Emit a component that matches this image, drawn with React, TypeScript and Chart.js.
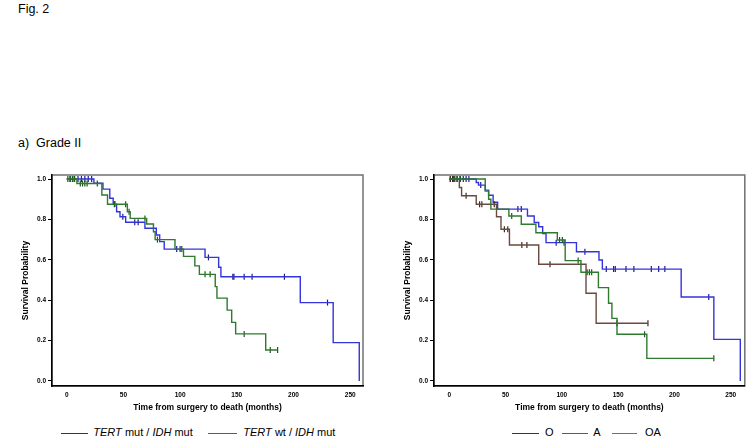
import React, { useEffect, useRef } from "react";
import { Chart, registerables } from "chart.js";

Chart.register(...registerables);

const FONT = '"Liberation Sans", Arial, sans-serif';

const xTicks = [0, 50, 100, 150, 200, 250];
const yTicks = [0, 0.2, 0.4, 0.6, 0.8, 1.0];
const xTitle = "Time from surgery to death (months)";
const yTitle = "Survival Probability";

// Left panel: TERT mut / IDH mut
const mutTimes = [0, 24, 32, 38, 41, 44, 47, 52, 69, 79, 82, 86, 122, 134, 136, 206, 235, 258];
const mutSurv = [1.0, 0.98, 0.95, 0.905, 0.876, 0.838, 0.813, 0.786, 0.756, 0.723, 0.69, 0.653, 0.612, 0.563, 0.516, 0.388, 0.19, 0.0];
const mutEnd = 258;
const mutCensor = [3, 6.5, 10, 13, 16, 19, 22, 42.5, 49.5, 60, 63, 97, 100, 125, 146.5, 147.5, 156.5, 163.5, 192, 230];

// Left panel: TERT wt / IDH mut
const wtTimes = [0, 9, 31, 36, 53.5, 56, 70.5, 76.5, 78, 95.5, 103, 113, 117, 131, 132.5, 141.5, 145.5, 149, 175.5];
const wtSurv = [1.0, 0.978, 0.921, 0.875, 0.838, 0.805, 0.777, 0.739, 0.70, 0.653, 0.617, 0.57, 0.528, 0.467, 0.41, 0.351, 0.29, 0.233, 0.153];
const wtEnd = 186;
const wtCensor = [1, 3, 5, 7, 12, 14, 16, 18, 27, 42, 52, 55, 69, 80, 101.5, 122, 126.5, 156.5, 179.5, 186];

// Right panel: O
const oTimes = [0, 24, 26, 32, 35, 39, 43, 69.5, 75.5, 79.5, 83, 86, 113, 133, 136, 206, 235, 258.5];
const oSurv = [1, 0.983, 0.97, 0.945, 0.92, 0.885, 0.851, 0.817, 0.785, 0.764, 0.73, 0.685, 0.64, 0.599, 0.554, 0.416, 0.206, 0];
const oEnd = 258.5;
const oCensor = [1, 4, 7, 9.5, 12.5, 15, 17.5, 28, 61, 64, 95, 102, 120.5, 139.5, 146, 147.5, 157, 164, 179.5, 186, 191.5, 230.5];

// Right panel: A
const aTimes = [0, 32, 35, 37, 53, 64, 77, 96, 103, 117, 132.5, 141.5, 144.5, 149, 175.5];
const aSurv = [1, 0.94, 0.9, 0.851, 0.817, 0.776, 0.734, 0.698, 0.596, 0.538, 0.462, 0.385, 0.31, 0.231, 0.112];
const aEnd = 235;
const aCensor = [4, 7, 10, 55.5, 98, 100.5, 114.5, 122.5, 124.5, 126.5, 173.5, 235];

// Right panel: OA
const oaTimes = [0, 9, 11, 24, 42, 46, 53.5, 79.5, 121.5, 130.5];
const oaSurv = [1, 0.958, 0.917, 0.875, 0.813, 0.751, 0.673, 0.578, 0.434, 0.286];
const oaEnd = 176.5;
const oaCensor = [1, 3, 5, 15, 27, 29, 40, 49, 52, 64.5, 69, 89.5, 149, 176.5];

const BLUE = "#3434dc";
const BLUE_C = "#1c1c8c";
const GREEN = "#2e7a2e";
const GREEN_C = "#1c561c";
const BROWN = "#6a4a40";
const BROWN_C = "#3a2820";

type Series = {
  times: number[];
  surv: number[];
  end: number;
  censor: number[];
  color: string;
  censorColor: string;
};

function survAt(times: number[], surv: number[], t: number) {
  let v = surv[0];
  for (let i = 0; i < times.length; i++) {
    if (times[i] <= t) v = surv[i];
  }
  return v;
}

const framePlugin = {
  id: "frame",
  beforeDraw(chart: any) {
    const { ctx, chartArea } = chart;
    const { left, top, right, bottom } = chartArea;
    ctx.save();
    ctx.strokeStyle = "#707070";
    ctx.lineWidth = 1.5;
    ctx.strokeRect(left, top, right - left, bottom - top);
    ctx.restore();
  },
};

function KM(props: {
  series: Series[];
  left: number;
  top: number;
  width: number;
  height: number;
  xMin: number;
  xMax: number;
  padRight: number;
}) {
  const ref = useRef<HTMLCanvasElement | null>(null);
  useEffect(() => {
    if (!ref.current) return;
    const datasets: any[] = [];
    props.series.forEach((s) => {
      const pts = s.times.map((t, i) => ({ x: t, y: s.surv[i] }));
      if (s.end > s.times[s.times.length - 1]) {
        pts.push({ x: s.end, y: s.surv[s.surv.length - 1] });
      }
      datasets.push({
        data: pts,
        showLine: true,
        stepped: "before",
        borderColor: s.color,
        borderWidth: 1.4,
        pointRadius: 0,
        fill: false,
      });
      datasets.push({
        data: s.censor.map((t) => ({ x: t, y: survAt(s.times, s.surv, t) })),
        showLine: false,
        pointStyle: "line",
        rotation: 90,
        pointRadius: 3,
        borderColor: s.censorColor,
        borderWidth: 1.2,
      });
    });
    const tickFont = { family: FONT, size: 6.5, weight: "bold" as const };
    const titleFont = { family: FONT, size: 8.5, weight: "bold" as const };
    const chart = new Chart(ref.current, {
      type: "scatter",
      data: { datasets },
      plugins: [framePlugin],
      options: {
        animation: false,
        responsive: false,
        devicePixelRatio: 1,
        layout: { padding: { top: 7, right: props.padRight, left: 0, bottom: 0 } },
        plugins: { legend: { display: false }, tooltip: { enabled: false } },
        scales: {
          x: {
            type: "linear",
            min: props.xMin,
            max: props.xMax,
            afterBuildTicks: (s: any) => {
              s.ticks = xTicks.map((v) => ({ value: v }));
            },
            afterFit: (s: any) => {
              s.height = 29;
            },
            ticks: {
              font: tickFont,
              color: "#000",
              padding: 5,
              maxRotation: 0,
              callback: (v: any) => String(v),
            },
            grid: { display: false, drawTicks: false },
            border: { display: true, color: "#000", width: 1.5 },
            title: {
              display: true,
              text: xTitle,
              font: titleFont,
              color: "#000",
              padding: { top: 0, bottom: 2.4 },
            },
          },
          y: {
            type: "linear",
            min: -0.025,
            max: 1.02,
            afterBuildTicks: (s: any) => {
              s.ticks = yTicks.map((v) => ({ value: v }));
            },
            afterFit: (s: any) => {
              s.width = 37;
            },
            ticks: {
              font: tickFont,
              color: "#000",
              padding: 2,
              callback: (v: any) => Number(v).toFixed(1),
            },
            grid: {
              display: true,
              drawOnChartArea: false,
              drawTicks: true,
              tickLength: 4,
              color: "#000",
              lineWidth: 1,
            },
            border: { display: true, color: "#000", width: 1.5 },
            title: {
              display: true,
              text: yTitle,
              font: titleFont,
              color: "#000",
              padding: { top: 5.4, bottom: 0 },
            },
          },
        },
      } as any,
    });
    return () => chart.destroy();
  }, []);
  return (
    <canvas
      ref={ref}
      width={props.width}
      height={props.height}
      style={{
        position: "absolute",
        left: props.left,
        top: props.top,
        width: props.width,
        height: props.height,
      }}
    />
  );
}

function LegendLine(p: { left: number; width: number; color: string }) {
  return (
    <div
      style={{
        position: "absolute",
        left: p.left,
        top: 432.6,
        width: p.width,
        height: 1.3,
        background: p.color,
      }}
    />
  );
}

function LegendText(p: { left: number; children: any }) {
  return (
    <div
      style={{
        position: "absolute",
        left: p.left,
        top: 426,
        fontSize: 11,
        lineHeight: "13px",
        whiteSpace: "pre",
      }}
    >
      {p.children}
    </div>
  );
}

export default function App() {
  const leftSeries: Series[] = [
    { times: wtTimes, surv: wtSurv, end: wtEnd, censor: wtCensor, color: GREEN, censorColor: GREEN_C },
    { times: mutTimes, surv: mutSurv, end: mutEnd, censor: mutCensor, color: BLUE, censorColor: BLUE_C },
  ];
  const rightSeries: Series[] = [
    { times: aTimes, surv: aSurv, end: aEnd, censor: aCensor, color: GREEN, censorColor: GREEN_C },
    { times: oaTimes, surv: oaSurv, end: oaEnd, censor: oaCensor, color: BROWN, censorColor: BROWN_C },
    { times: oTimes, surv: oSurv, end: oEnd, censor: oCensor, color: BLUE, censorColor: BLUE_C },
  ];
  return (
    <div
      style={{
        position: "fixed",
        left: 0,
        top: 0,
        width: 750,
        height: 443,
        background: "#fff",
        fontFamily: FONT,
        color: "#000",
        overflow: "hidden",
      }}
    >
      <div style={{ position: "absolute", left: 18, top: 3.4, fontSize: 12.5, lineHeight: 1 }}>Fig. 2</div>
      <div style={{ position: "absolute", left: 18, top: 136.5, fontSize: 12.5, lineHeight: 1, whiteSpace: "pre" }}>
        {"a)  Grade II"}
      </div>
      <KM series={leftSeries} left={15} top={168} width={355} height={247} xMin={-12.96} xMax={261.3} padRight={7} />
      <KM series={rightSeries} left={397} top={168} width={353} height={247} xMin={-13.5} xMax={262.5} padRight={3} />

      <LegendLine left={61} width={27} color="#2b2b9e" />
      <LegendText left={93.3}>
        <i>TERT</i> mut / <i>IDH</i> mut
      </LegendText>
      <LegendLine left={208.3} width={28.4} color={GREEN} />
      <LegendText left={243.3}>
        <i>TERT</i> wt / <i>IDH</i> mut
      </LegendText>

      <LegendLine left={511.7} width={27.6} color="#2b2b9e" />
      <LegendText left={545}>O</LegendText>
      <LegendLine left={561.7} width={26.6} color={GREEN} />
      <LegendText left={593.3}>A</LegendText>
      <LegendLine left={611.7} width={25.6} color="#7a6a62" />
      <LegendText left={645}>OA</LegendText>
    </div>
  );
}
